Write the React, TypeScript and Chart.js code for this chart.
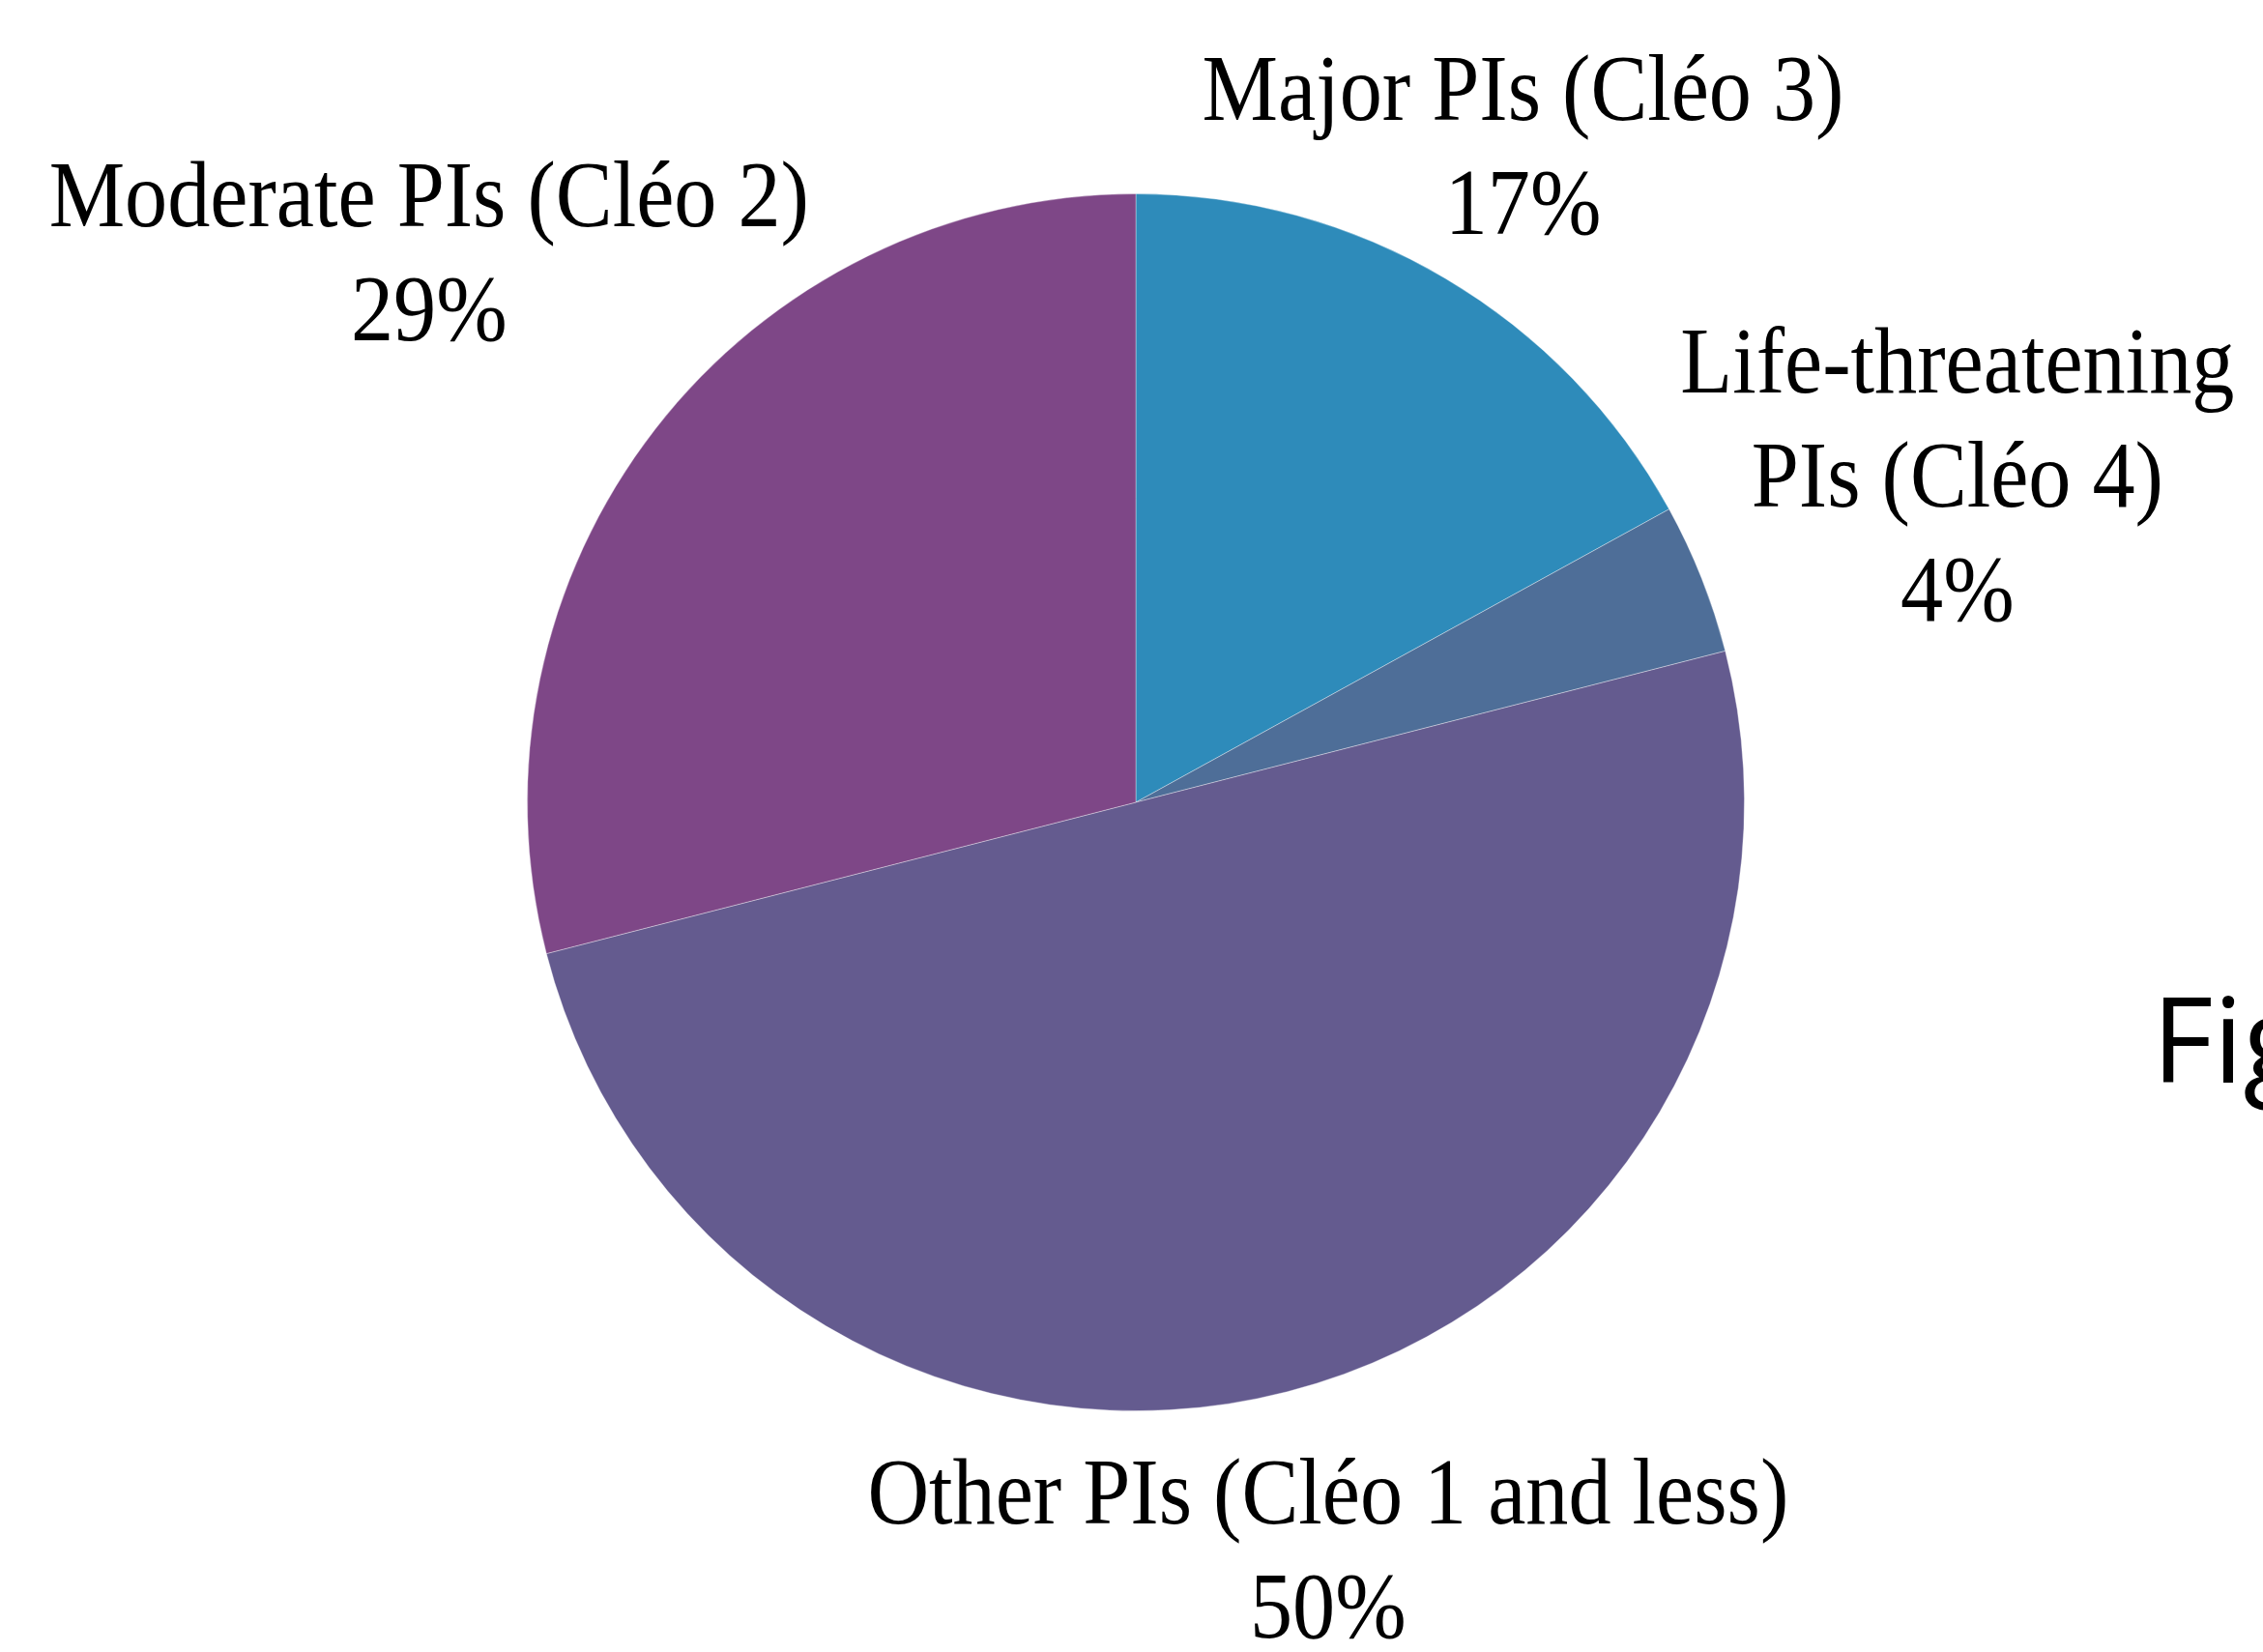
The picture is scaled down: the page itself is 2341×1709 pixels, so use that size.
import React, { useEffect, useRef } from "react";
import { Chart, registerables } from "chart.js";

Chart.register(...registerables);

const categories: string[][] = [
  ["Major PIs (Cléo 3)"],
  ["Life-threatening", "PIs (Cléo 4)"],
  ["Other PIs (Cléo 1 and less)"],
  ["Moderate PIs (Cléo 2)"],
];
const values: number[] = [17, 4, 50, 29];
const colors: string[] = ["#2E8BBA", "#4E6E98", "#645B8F", "#7E4787"];
const labelDistance: number[] = [1.25, 1.452, 1.27, 1.47];
const sideText = "Figure";

const W = 2341;
const H = 1709;

const labelPlugin = {
  id: "pieLabels",
  afterDatasetsDraw(chart: any) {
    const ctx = chart.ctx as CanvasRenderingContext2D;
    const meta = chart.getDatasetMeta(0);
    const data = chart.data.datasets[0].data as number[];
    const total = data.reduce((a, b) => a + b, 0);
    const fontSize = 98;
    const lineH = 118;
    const sx = 0.9;
    ctx.save();
    ctx.fillStyle = "#000000";
    ctx.font = `${fontSize}px "Liberation Serif", "DejaVu Serif", serif`;
    ctx.textAlign = "center";
    ctx.textBaseline = "alphabetic";
    meta.data.forEach((arc: any, i: number) => {
      const mid = (arc.startAngle + arc.endAngle) / 2;
      const d = labelDistance[i] * arc.outerRadius;
      const ax = arc.x + d * Math.cos(mid);
      const ay = arc.y + d * Math.sin(mid);
      const lbl = chart.data.labels[i];
      const lines: string[] = [...(Array.isArray(lbl) ? lbl : [lbl])];
      lines.push(Math.round((data[i] / total) * 100) + "%");
      const n = lines.length;
      lines.forEach((t, k) => {
        const cy = ay + (k - (n - 1) / 2) * lineH;
        ctx.save();
        ctx.translate(ax, cy + fontSize * 0.31);
        ctx.scale(sx, 1);
        ctx.fillText(t, 0, 0);
        ctx.restore();
      });
    });
    // side text (cut off at the right edge)
    ctx.font = `123px "Open Sans", "Noto Sans", sans-serif`;
    ctx.textAlign = "left";
    ctx.fillText(sideText, 2226, 1120);
    ctx.restore();
  },
};

export default function App() {
  const ref = useRef<HTMLCanvasElement | null>(null);
  useEffect(() => {
    document.body.style.margin = "0";
    document.body.style.background = "#ffffff";
    const canvas = ref.current!;
    const chart = new Chart(canvas, {
      type: "pie",
      data: {
        labels: categories,
        datasets: [
          {
            data: values,
            backgroundColor: colors,
            borderColor: "rgba(255,255,255,0.35)",
            borderWidth: 1,
          },
        ],
      },
      options: {
        responsive: false,
        animation: false,
        layout: { padding: { top: 200, bottom: 249, left: 545, right: 536 } },
        plugins: {
          legend: { display: false },
          tooltip: { enabled: false },
          title: { display: false },
        },
      },
      plugins: [labelPlugin],
    });
    return () => chart.destroy();
  }, []);
  return (
    <div style={{ position: "absolute", left: 0, top: 0, width: W, height: H, background: "#ffffff" }}>
      <canvas ref={ref} width={W} height={H} style={{ width: W, height: H, display: "block" }} />
    </div>
  );
}
